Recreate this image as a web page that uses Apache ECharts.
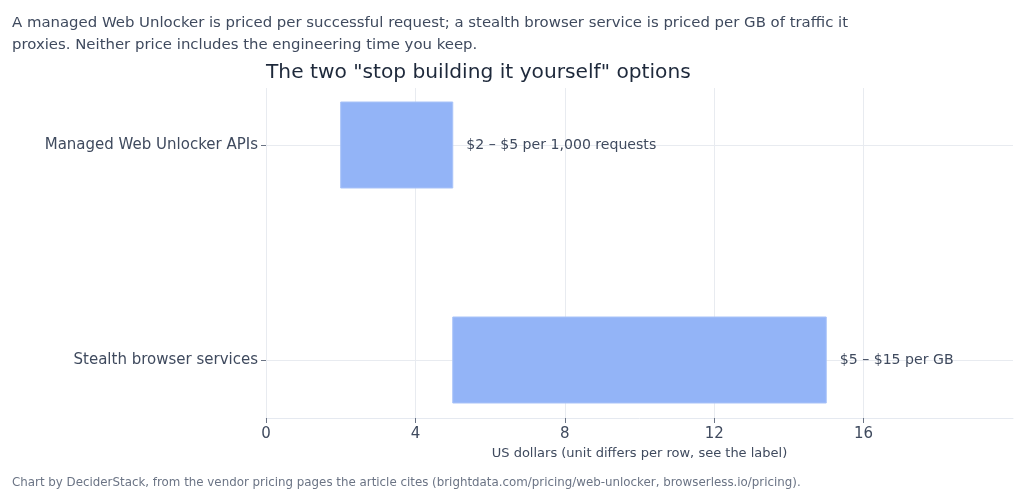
<!DOCTYPE html>
<html>
<head>
<meta charset="utf-8">
<script src="https://cdn.jsdelivr.net/npm/echarts@6/dist/echarts.min.js"></script>
<style>
html,body{margin:0;padding:0;background:#fff;}
#chart{width:1024px;height:495px;}
</style>
</head>
<body>
<div id="chart"></div>
<script>
const categories = ["Managed Web Unlocker APIs", "Stealth browser services"];
const lowValues = [2, 5];
const highValues = [5, 15];
const barLabels = ["$2 \u2013 $5 per 1,000 requests", "$5 \u2013 $15 per GB"];
const xTicks = [0, 4, 8, 12, 16];

const FONT = "DejaVu Sans";
const chart = echarts.init(document.getElementById('chart'), null, {renderer: 'canvas'});

const barData = categories.map((c, i) => [lowValues[i], highValues[i], i, barLabels[i]]);
const gridColor = '#e8ebf0';

chart.setOption({
  backgroundColor: '#ffffff',
  animation: false,
  textStyle: {fontFamily: FONT},
  title: [
    {
      text: 'A managed Web Unlocker is priced per successful request; a stealth browser service is priced per GB of traffic it\nproxies. Neither price includes the engineering time you keep.',
      left: 12, top: 12, padding: 0,
      textStyle: {fontFamily: FONT, fontSize: 14.9, fontWeight: 'normal', color: '#3f4a5e', lineHeight: 22}
    },
    {
      text: 'The two "stop building it yourself" options',
      left: 266, top: 63, padding: 0,
      textStyle: {fontFamily: FONT, fontSize: 20.2, fontWeight: 'normal', color: '#1e293b'}
    },
    {
      text: 'Chart by DeciderStack, from the vendor pricing pages the article cites (brightdata.com/pricing/web-unlocker, browserless.io/pricing).',
      left: 12, top: 477, padding: 0,
      textStyle: {fontFamily: FONT, fontSize: 11.85, fontWeight: 'normal', color: '#6b7485'}
    }
  ],
  grid: [
    {left: 266, right: 11, top: 88, bottom: 77, containLabel: false},
    {left: 266, right: 11, top: 145, bottom: 135, containLabel: false}
  ],
  xAxis: [
    {
      gridIndex: 0, type: 'value', min: 0, max: 20, interval: 4,
      name: 'US dollars (unit differs per row, see the label)',
      nameLocation: 'middle', nameGap: 27,
      nameTextStyle: {fontFamily: FONT, fontSize: 13, color: '#3f4a5e'},
      axisLine: {show: true, lineStyle: {color: '#e5e9f0', width: 1}},
      axisTick: {show: true, length: 5, customValues: xTicks, lineStyle: {color: '#6b7485'}},
      axisLabel: {
        fontFamily: FONT, fontSize: 15, color: '#3f4a5e', margin: 9,
        customValues: xTicks,
        formatter: v => (xTicks.indexOf(v) >= 0 ? String(v) : '')
      },
      splitLine: {show: true, lineStyle: {color: [gridColor, gridColor, gridColor, gridColor, gridColor, 'rgba(0,0,0,0)'], width: 1}}
    },
    {
      gridIndex: 1, type: 'value', min: 0, max: 20, show: false,
      splitLine: {show: false}
    }
  ],
  yAxis: [
    {gridIndex: 0, type: 'value', min: 0, max: 1, show: false, splitLine: {show: false}},
    {
      gridIndex: 1, type: 'value', min: 0, max: 1, interval: 1, inverse: true,
      axisLine: {show: false},
      axisTick: {show: true, length: 5, lineStyle: {color: '#6b7485'}},
      axisLabel: {
        fontFamily: FONT, fontSize: 15, color: '#3f4a5e', margin: 8,
        formatter: v => categories[Math.round(v)] || ''
      },
      splitLine: {show: true, lineStyle: {color: gridColor, width: 1}}
    }
  ],
  series: [
    {
      type: 'custom',
      xAxisIndex: 1, yAxisIndex: 1,
      data: barData,
      encode: {x: [0, 1], y: 2},
      renderItem: function (params, api) {
        const start = api.coord([api.value(0), api.value(2)]);
        const end = api.coord([api.value(1), api.value(2)]);
        const h = api.size([0, 0.4])[1];
        return {
          type: 'rect',
          shape: {x: start[0], y: start[1] - h / 2, width: end[0] - start[0], height: h},
          style: {fill: '#93b4f7', stroke: '#a9c3f8', lineWidth: 1},
          textContent: {
            style: {text: barLabels[params.dataIndex], fontFamily: FONT, fontSize: 14.1, fill: '#3f4a5e'}
          },
          textConfig: {position: 'right', distance: 13}
        };
      }
    }
  ]
});
</script>
</body>
</html>
